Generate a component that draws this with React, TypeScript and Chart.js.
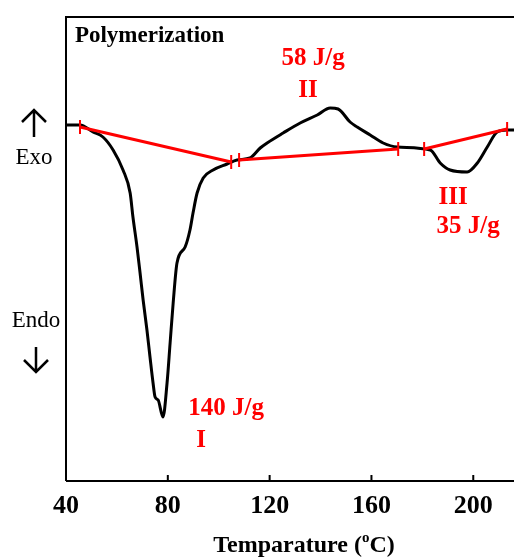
import React, { useEffect, useRef } from "react";
import { Chart, registerables } from "chart.js";

Chart.register(...registerables);

// DSC curve (temperature in °C, heat flow in arbitrary units, exo up)
const temperature = [
  40, 45.5, 50.6, 54.5, 58.5, 62.4, 65.2, 66.3, 67.9, 69.1, 70.3, 71.8, 73.0, 74.2, 75.0,
  76.2, 78.1, 79.7, 80.9, 82.1, 83.6, 86.8, 88.7, 89.9, 91.5, 93.9, 97.8, 103.3, 107.2,
  112.3, 116.3, 119.0, 125.3, 132.0, 138.7, 143.8, 146.9, 151.6, 154.4, 159.5, 164.6,
  170.1, 183.1, 187.0, 190.9, 197.6, 201.6, 205.5, 209.4, 213.3, 216,
];
const heatFlow = [
  356, 356, 349, 344, 331, 311, 288, 264, 234, 208, 181, 151, 124, 98, 84,
  81, 64, 98, 138, 178, 218, 234, 251, 268, 288, 303, 311, 317, 321,
  323, 333, 338, 348, 358, 366, 373, 372, 359, 354, 346, 338,
  334, 331, 318, 311, 309, 318, 334, 349, 351, 351,
];

// Integration baselines (red)
const baseI_T = [45.5, 104.9];
const baseI_Y = [354, 319];
const baseII_T = [108.0, 170.5];
const baseII_Y = [321, 332];
const baseIII_T = [180.7, 213.3];
const baseIII_Y = [332, 352];

const xTicks = [40, 80, 120, 160, 200];

// Peak labels (red)
const peakTexts = ["58 J/g", "II", "III", "35 J/g", "140 J/g", "I"];
const peakT = [137.1, 135.1, 192.1, 198.0, 102.9, 93.1];
const peakY = [416, 384, 277, 248, 66, 34];

const RED = "#ff0000";
const SERIF = '"Liberation Serif", "Times New Roman", serif';

function pts(xs: number[], ys: number[]) {
  return xs.map((v, i) => ({ x: v, y: ys[i] }));
}

function arrow(ctx: CanvasRenderingContext2D, cx: number, yFrom: number, yTo: number) {
  const dir = yTo < yFrom ? -1 : 1;
  ctx.beginPath();
  ctx.moveTo(cx, yFrom);
  ctx.lineTo(cx, yTo);
  ctx.moveTo(cx - 12, yTo - dir * 12);
  ctx.lineTo(cx, yTo);
  ctx.lineTo(cx + 12, yTo - dir * 12);
  ctx.stroke();
}

const decor = {
  id: "decor",
  afterDatasetsDraw(chart: any) {
    const { ctx, chartArea: a, scales } = chart;
    const x = scales.x;
    const y = scales.y;
    ctx.save();
    // frame
    ctx.strokeStyle = "#000";
    ctx.lineWidth = 2;
    ctx.beginPath();
    ctx.moveTo(a.left, a.bottom);
    ctx.lineTo(a.left, a.top);
    ctx.lineTo(a.right, a.top);
    ctx.moveTo(a.left, a.bottom);
    ctx.lineTo(a.right, a.bottom);
    xTicks.forEach((t) => {
      const px = x.getPixelForValue(t);
      ctx.moveTo(px, a.bottom);
      ctx.lineTo(px, a.bottom - 6);
    });
    ctx.stroke();

    // Title inside the plot
    ctx.fillStyle = "#000";
    ctx.textAlign = "left";
    ctx.textBaseline = "alphabetic";
    ctx.font = `bold 23px ${SERIF}`;
    ctx.fillText("Polymerization", x.getPixelForValue(43.5), y.getPixelForValue(439));

    // Exo / Endo
    ctx.textAlign = "center";
    ctx.font = `23px ${SERIF}`;
    ctx.fillText("Exo", a.left - 32, y.getPixelForValue(317));
    ctx.fillText("Endo", a.left - 30, y.getPixelForValue(154));
    ctx.lineWidth = 2.5;
    arrow(ctx, a.left - 32, y.getPixelForValue(344), y.getPixelForValue(371));
    arrow(ctx, a.left - 30, y.getPixelForValue(134), y.getPixelForValue(109));

    // peak labels
    ctx.fillStyle = RED;
    ctx.textBaseline = "alphabetic";
    ctx.font = `bold 25px ${SERIF}`;
    peakTexts.forEach((t, i) => {
      ctx.fillText(t, x.getPixelForValue(peakT[i]), y.getPixelForValue(peakY[i]));
    });

    // x-axis title with superscript o
    ctx.fillStyle = "#000";
    ctx.textAlign = "left";
    const big = `bold 24px ${SERIF}`;
    const small = `bold 15px ${SERIF}`;
    const p1 = "Temparature (";
    const p2 = "o";
    const p3 = "C)";
    ctx.font = big;
    const w1 = ctx.measureText(p1).width;
    const w3 = ctx.measureText(p3).width;
    ctx.font = small;
    const w2 = ctx.measureText(p2).width;
    const total = w1 + w2 + w3;
    const cx = (a.left + a.right) / 2 + 14;
    const baseY = chart.height - 5;
    let sx = cx - total / 2;
    ctx.font = big;
    ctx.fillText(p1, sx, baseY);
    sx += w1;
    ctx.font = small;
    ctx.fillText(p2, sx, baseY - 10);
    sx += w2;
    ctx.font = big;
    ctx.fillText(p3, sx, baseY);
    ctx.restore();
  },
};

export default function App() {
  const ref = useRef<HTMLCanvasElement | null>(null);
  useEffect(() => {
    if (!ref.current) return;
    const baseDs = (xs: number[], ys: number[]) => ({
      data: pts(xs, ys),
      borderColor: RED,
      borderWidth: 3,
      pointStyle: "line" as const,
      rotation: 90,
      pointRadius: 7,
      pointBorderWidth: 2,
      pointBorderColor: RED,
      pointBackgroundColor: RED,
      order: 0,
    });
    const chart = new Chart(ref.current, {
      type: "line",
      data: {
        datasets: [
          baseDs(baseI_T, baseI_Y),
          baseDs(baseII_T, baseII_Y),
          baseDs(baseIII_T, baseIII_Y),
          {
            data: pts(temperature, heatFlow),
            borderColor: "#000",
            borderWidth: 3,
            pointRadius: 0,
            cubicInterpolationMode: "monotone",
            order: 1,
          },
        ],
      },
      options: {
        animation: false,
        responsive: false,
        maintainAspectRatio: false,
        layout: { autoPadding: false, padding: { left: 66, top: 17, right: 0, bottom: 0 } },
        plugins: { legend: { display: false }, tooltip: { enabled: false } },
        scales: {
          x: {
            type: "linear",
            min: 40,
            max: 216,
            grid: { display: false, drawTicks: false },
            border: { display: false },
            afterBuildTicks: (s: any) => {
              s.ticks = xTicks.map((v) => ({ value: v }));
            },
            afterFit: (s: any) => {
              s.height = 76;
              s.paddingLeft = 0;
              s.paddingRight = 0;
            },
            ticks: {
              color: "#000",
              padding: 10,
              maxRotation: 0,
              autoSkip: false,
              font: { family: SERIF, size: 26, weight: "bold" },
            },
          },
          y: {
            type: "linear",
            min: 0,
            max: 464,
            display: false,
          },
        },
      },
      plugins: [decor],
    });
    return () => chart.destroy();
  }, []);
  return (
    <div style={{ position: "absolute", left: 0, top: 0, width: 514, height: 557, background: "#fff" }}>
      <canvas ref={ref} width={514} height={557} />
    </div>
  );
}
